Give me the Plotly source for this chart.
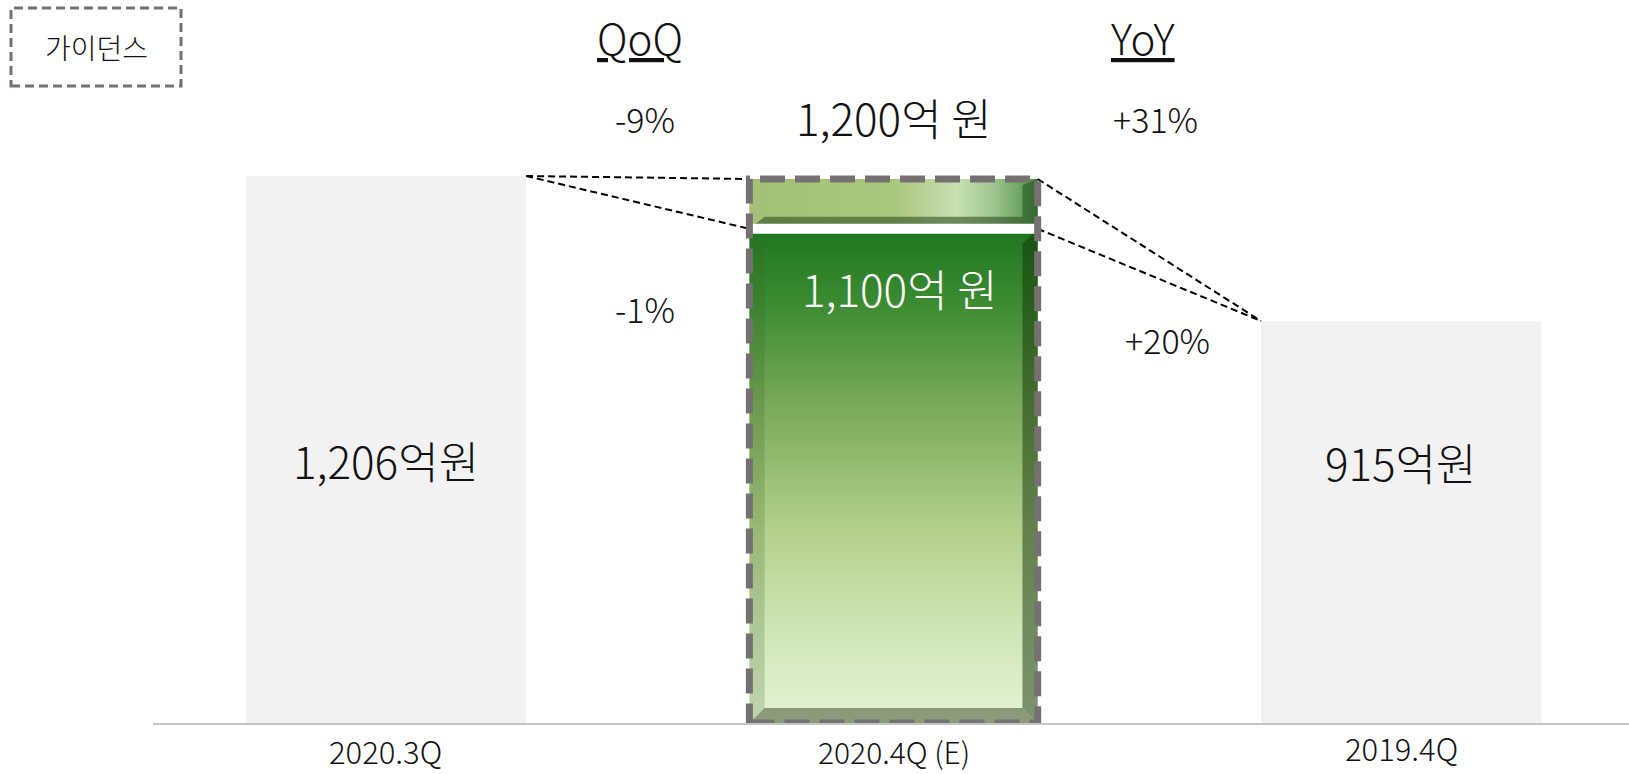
import plotly.graph_objects as go

# ---------------- data ----------------
categories = ["2020.3Q", "2020.4Q (E)", "2019.4Q"]
actual_values = [1206, 915]          # 2020.3Q, 2019.4Q
actual_labels = ["1,206억원", "915억원"]
guidance_low = 1100
guidance_high = 1200
guidance_labels = ["1,100억 원", "1,200억 원"]
qoq_labels = ["-9%", "-1%"]          # high, low
yoy_labels = ["+31%", "+20%"]        # high, low
badge_text = "가이던스"

# ---------------- layout constants ----------------
W, H = 1629, 774
ML, MB, MT, MR = 153, 51, 0, 0
XR = [-0.459, 2.449]
YR = [108.3, 1559.2]
FONT = "Noto Sans CJK KR"
PW, PH = W - ML - MR, H - MT - MB

def xpx(px):   # pixel -> data x
    return XR[0] + (px - ML) / PW * (XR[1] - XR[0])

def ypaper(py):  # pixel -> paper y
    return (H - MB - py) / PH

def xpaper(px):
    return (px - ML) / PW

xs = {c: i for i, c in enumerate(categories)}
x_a, x_g, x_b = xs["2020.3Q"], xs["2020.4Q (E)"], xs["2019.4Q"]
gray_w = 0.552
hw = 0.284           # half width of guidance bar
bvx = 0.03           # bevel width (x units)
bvy = 30             # bevel height (y units)
L, R = x_g - hw, x_g + hw
base = YR[0]

fig = go.Figure()

# gray actual bars
fig.add_trace(go.Bar(x=[x_a, x_b], y=actual_values, width=gray_w,
                     marker=dict(color="#f2f2f2", line=dict(width=0)),
                     hoverinfo="skip", showlegend=False))

def poly(xv, yv, **kw):
    fig.add_trace(go.Scatter(x=xv, y=yv, mode="lines", fill="toself",
                             line=dict(width=0), hoverinfo="skip",
                             showlegend=False, **kw))

# lower guidance segment (gradient)
poly([L, R, R, L, L], [0, 0, guidance_low, guidance_low, 0],
     fillgradient=dict(type="vertical", start=base, stop=guidance_low,
                       colorscale=[[0, "#e5f4d5"], [0.2, "#cde4b4"],
                                   [0.385, "#b4d18c"], [0.64, "#7aaa5a"],
                                   [0.85, "#3c8b32"], [1, "#1e761e"]]))
# bevels for lower segment
poly([L, L + bvx, L + bvx, L, L],
     [base, base + bvy, guidance_low - bvy, guidance_low, base],
     fillcolor="rgba(60,100,40,0.22)")
poly([R, R - bvx, R - bvx, R, R],
     [base, base + bvy, guidance_low - bvy, guidance_low, base],
     fillcolor="rgba(20,50,10,0.5)")
poly([L, R, R - bvx, L + bvx, L],
     [base, base, base + bvy, base + bvy, base],
     fillcolor="rgba(70,80,50,0.55)")

# upper guidance segment
poly([L, R, R, L, L], [guidance_low, guidance_low, guidance_high, guidance_high, guidance_low],
     fillgradient=dict(type="horizontal", start=L, stop=R,
                       colorscale=[[0, "#a3c176"], [0.5, "#a9c77d"],
                                   [0.72, "#c9e0b2"], [0.85, "#9cc58e"],
                                   [1, "#4d8f45"]]))
poly([L, R, R - bvx, L + bvx, L],
     [guidance_low, guidance_low, guidance_low + 24, guidance_low + 24, guidance_low],
     fillcolor="rgba(50,80,35,0.6)")
poly([R, R - bvx, R - bvx, R, R],
     [guidance_low, guidance_low + 24, guidance_high - 12, guidance_high, guidance_low],
     fillcolor="rgba(20,60,20,0.45)")

# white gap between the segments
fig.add_trace(go.Scatter(x=[L, R], y=[guidance_low, guidance_low], mode="lines",
                         line=dict(color="white", width=10), hoverinfo="skip",
                         showlegend=False))

# dashed connector lines
a_right = x_a + gray_w / 2
b_left = x_b - gray_w / 2
for y_to in (guidance_high, guidance_low):
    fig.add_trace(go.Scatter(x=[a_right, L], y=[actual_values[0], y_to], mode="lines",
                             line=dict(color="black", width=2, dash="7px,4px"),
                             hoverinfo="skip", showlegend=False))
    fig.add_trace(go.Scatter(x=[R, b_left], y=[y_to, actual_values[1]], mode="lines",
                             line=dict(color="black", width=2, dash="7px,4px"),
                             hoverinfo="skip", showlegend=False))

# dashed border around guidance bar
fig.add_trace(go.Scatter(x=[L, R, R, L, L], y=[base, base, guidance_high, guidance_high, base],
                         mode="lines", line=dict(color="#767171", width=7, dash="25px,10px"),
                         hoverinfo="skip", showlegend=False))

# badge box
fig.add_shape(type="rect", xref="paper", yref="paper",
              x0=xpaper(11), x1=xpaper(181), y0=ypaper(86), y1=ypaper(8),
              line=dict(color="#767171", width=3, dash="9px,5px"), fillcolor="rgba(0,0,0,0)")

ann = []
def text(t, x, py, size, color="#111111", xref="x"):
    ann.append(dict(text=t, x=x, y=ypaper(py), xref=xref, yref="paper",
                    showarrow=False, xanchor="center", yanchor="middle",
                    font=dict(family=FONT, size=size, color=color, weight=300)))

text(badge_text, xpaper(96), 47, 28, xref="paper")
text("<u>QoQ</u>", xpx(640), 36, 42)
text("<u>YoY</u>", xpx(1143), 36, 42)
text(qoq_labels[0], xpx(645), 119, 34)
text(guidance_labels[1], x_g, 117, 44)
text(yoy_labels[0], xpx(1155), 119, 34)
text(qoq_labels[1], xpx(645), 308, 34)
text(yoy_labels[1], xpx(1167), 339, 34)
text(guidance_labels[0], xpx(900), 288, 44, color="white")
text(actual_labels[0], x_a, 460, 44)
text(actual_labels[1], x_b, 462, 44)
text(categories[0], x_a, 750, 31)
text(categories[1], x_g, 751, 30)
text(categories[2], x_b, 747, 31)

fig.update_layout(
    width=W, height=H, margin=dict(l=ML, r=MR, t=MT, b=MB),
    paper_bgcolor="white", plot_bgcolor="white",
    barmode="overlay", annotations=ann, showlegend=False,
    xaxis=dict(range=XR, showgrid=False, zeroline=False, showticklabels=False,
               showline=True, linecolor="#c4c4c4", linewidth=1.5, ticks=""),
    yaxis=dict(range=YR, showgrid=False, zeroline=False, showticklabels=False,
               showline=False, ticks=""),
)

fig.write_html("out.html", config={"displayModeBar": False},
               post_script="document.body.style.margin='0';document.body.style.overflow='hidden';")
